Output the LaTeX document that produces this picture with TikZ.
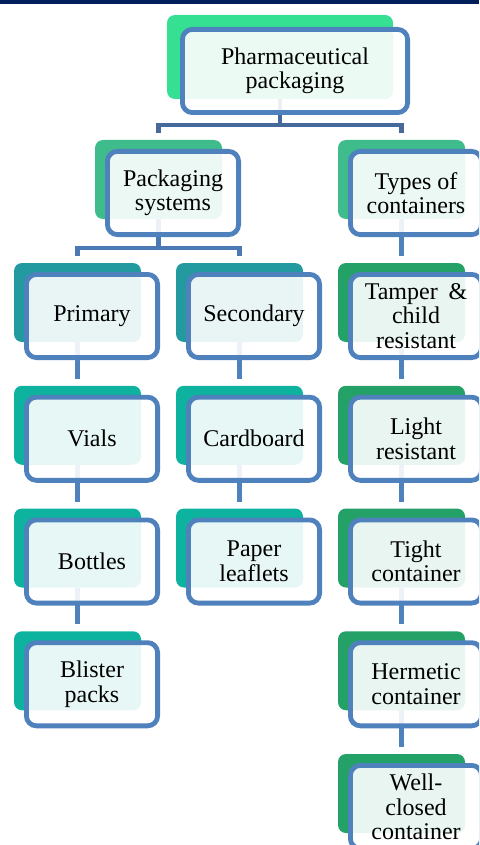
\documentclass[tikz,border=0pt]{standalone}
\usepackage{fontspec}
\setmainfont{Liberation Serif}
\usetikzlibrary{calc}
\definecolor{navy}{HTML}{001F5B}
\definecolor{gTop}{HTML}{36E093}
\definecolor{gTwo}{HTML}{3EBC8C}
\definecolor{tealA}{HTML}{2399A0}
\definecolor{tealB}{HTML}{0DB39E}
\definecolor{greenR}{HTML}{24A167}
\definecolor{boxblue}{HTML}{4F81BD}
\definecolor{connA}{HTML}{44699A}
\definecolor{connB}{HTML}{4C79B3}
\pgfdeclarelayer{bg}
\pgfsetlayers{bg,main}
\newcommand\citem[5]{%
  \node[backbox, fill=#4] (b#1) at (#2,#3) {};
  \node[frontbox] (f#1) at ([xshift=14.5pt,yshift=-13.5pt]b#1.center) {#5};
}
\begin{document}
\begin{tikzpicture}[x=1pt,y=-1pt,
  backbox/.style={draw=none, rounded corners=8pt, minimum width=127pt, minimum height=79pt, inner sep=0pt, outer sep=0pt},
  frontbox/.style={draw=boxblue, line width=4.8pt, rounded corners=10pt, fill=white, fill opacity=0.9, text opacity=1, draw opacity=1, minimum width=131.2pt, minimum height=83.2pt, inner sep=0pt, outer sep=0pt, align=center, font=\fontsize{24}{24.5}\selectfont},
  conn/.style={draw=boxblue, line width=4.2pt},
]
\useasboundingbox (0,0) rectangle (479,845);
\clip (0,0) rectangle (479,845);
\fill[navy] (0,0) rectangle (479,4.5);

% top
\node[backbox, fill=gTop, minimum width=226pt, minimum height=84pt] (btop) at (280,57) {};
\node[frontbox, minimum width=225.2pt] (ftop) at ([xshift=15pt,yshift=-14pt]btop.center) {Pharmaceutical\\packaging};

% level 2
\citem{ps}{158.5}{179.5}{gTwo}{Packaging\\systems}
\citem{tc}{401.5}{179.5}{gTwo}{Types of\\containers}

% left column
\citem{prim}{77.5}{302.5}{tealA}{Primary}
\citem{vials}{77.5}{425.25}{tealB}{Vials}
\citem{bott}{77.5}{548}{tealB}{Bottles}
\citem{blis}{77.5}{670.75}{tealB}{Blister\\packs}

% middle column
\citem{sec}{239.5}{302.5}{tealA}{Secondary}
\citem{card}{239.5}{425.25}{tealB}{Cardboard}
\citem{pap}{239.5}{548}{tealB}{Paper\\leaflets}

% right column
\citem{tamp}{401.5}{302.5}{greenR}{Tamper\hspace{0.45em}\&\\child\\resistant}
\citem{light}{401.5}{425.25}{greenR}{Light\\resistant}
\citem{tight}{401.5}{548}{greenR}{Tight\\container}
\citem{herm}{401.5}{670.75}{greenR}{Hermetic\\container}
\citem{well}{401.5}{793.5}{greenR}{Well-\\closed\\container}

\begin{pgfonlayer}{bg}
\draw[conn, draw=connA] (btop.south) -- ([yshift=-26pt]btop.south);
\draw[conn, draw=connA] ([yshift=7pt]bps.north) |- ([yshift=-26pt]btop.south) -| ([yshift=7pt]btc.north);
\draw[conn, draw=connB] (bps.south) -- ([yshift=-29pt]bps.south);
\draw[conn, draw=connB] ([yshift=7pt]bprim.north) |- ([yshift=-29pt]bps.south) -| ([yshift=7pt]bsec.north);
\draw[conn] (btc.south) -- ([yshift=7pt]btamp.north);
\draw[conn] (bprim.south) -- ([yshift=7pt]bvials.north);
\draw[conn] (bvials.south) -- ([yshift=7pt]bbott.north);
\draw[conn] (bbott.south) -- ([yshift=7pt]bblis.north);
\draw[conn] (bsec.south) -- ([yshift=7pt]bcard.north);
\draw[conn] (bcard.south) -- ([yshift=7pt]bpap.north);
\draw[conn] (btamp.south) -- ([yshift=7pt]blight.north);
\draw[conn] (blight.south) -- ([yshift=7pt]btight.north);
\draw[conn] (btight.south) -- ([yshift=7pt]bherm.north);
\draw[conn] (bherm.south) -- ([yshift=7pt]bwell.north);
\end{pgfonlayer}
\end{tikzpicture}
\end{document}
